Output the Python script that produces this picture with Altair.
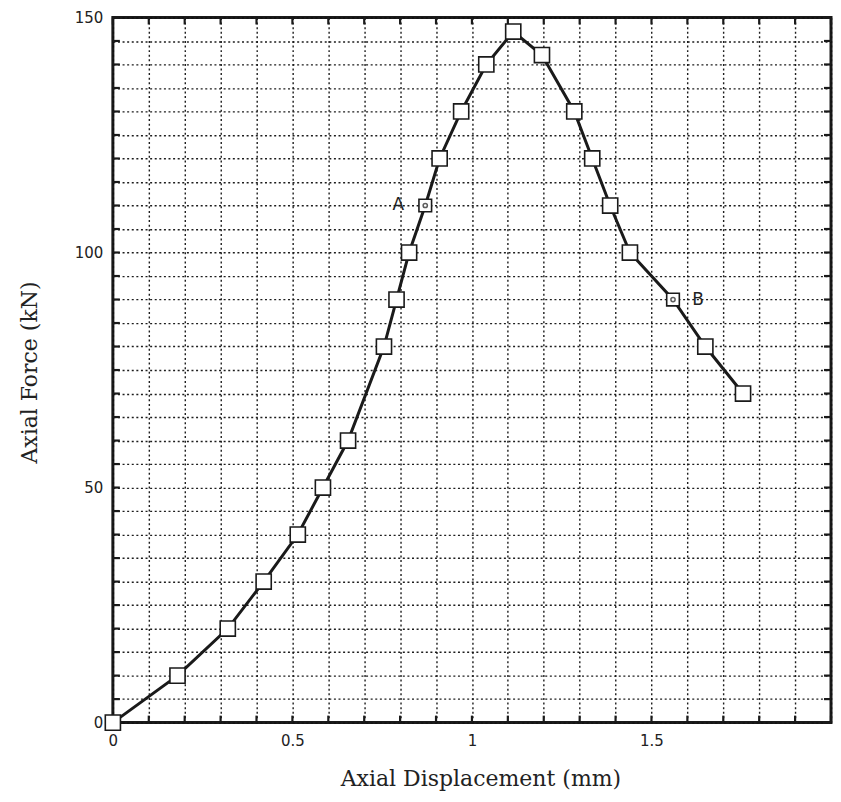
import altair as alt
import pandas as pd

# Axial displacement (mm) and axial force (kN)
disp = [0.0, 0.18, 0.32, 0.42, 0.515, 0.585, 0.655, 0.755, 0.79, 0.825, 0.87,
        0.91, 0.97, 1.04, 1.115, 1.195, 1.285, 1.335, 1.385, 1.44, 1.56, 1.65, 1.755]
force = [0, 10, 20, 30, 40, 50, 60, 80, 90, 100, 110,
         120, 130, 140, 147, 142, 130, 120, 110, 100, 90, 80, 70]
kind = ["n"] * 10 + ["A"] + ["n"] * 9 + ["B"] + ["n"] * 2

label_names = ["A", "B"]
label_disp = [0.87, 1.56]
label_force = [110, 90]

x_ticks = [round(i / 10, 1) for i in range(21)]
y_ticks = [i * 5 for i in range(31)]

W, H = 719, 706

df = pd.DataFrame({"d": disp, "f": force, "k": kind})
lab = pd.DataFrame({"name": label_names, "d": label_disp, "f": label_force})
xt = pd.DataFrame({"d": x_ticks})
yt = pd.DataFrame({"f": y_ticks})

xscale = alt.Scale(domain=[0, 2], nice=False, zero=False)
yscale = alt.Scale(domain=[0, 150], nice=False, zero=False)

xaxis = alt.Axis(
    values=x_ticks, format="~g", tickCount=21,
    labelExpr="(abs(datum.value*2 - round(datum.value*2)) < 0.001 && datum.value < 1.95) ? datum.label : ''",
    grid=True, gridColor="#111", gridDash=[2, 2.6], gridWidth=1.4, gridOpacity=0.95,
    ticks=False, domain=False, labelPadding=11, labelFlush=False, labelOverlap=False,
    labelFont="DejaVu Sans", labelFontSize=15, labelColor="#222",
    title="Axial Displacement (mm)", titleFont="DejaVu Serif",
    titleFontSize=22, titleFontWeight="normal", titleColor="#222",
    titleX=368, titleY=56, titleBaseline="middle", titleAlign="center",
)
yaxis = alt.Axis(
    values=y_ticks, tickCount=31,
    labelExpr="datum.value % 50 == 0 ? datum.label : ''",
    grid=True, gridColor="#111", gridDash=[2, 2.6], gridWidth=1.4, gridOpacity=0.95,
    ticks=False, domain=False, labelPadding=10, labelFlush=False, labelOverlap=False,
    labelFont="DejaVu Sans", labelFontSize=15, labelColor="#222",
    title="Axial Force (kN)", titleFont="DejaVu Serif",
    titleFontSize=22, titleFontWeight="normal", titleColor="#222",
    titleX=-83, titleY=355, titleAngle=270, titleBaseline="middle", titleAlign="center",
)

X = alt.X("d:Q", scale=xscale, axis=xaxis)
Y = alt.Y("f:Q", scale=yscale, axis=yaxis)

line = alt.Chart(df).mark_line(color="#1a1a1a", strokeWidth=3).encode(x=X, y=Y)

pts = alt.Chart(df).transform_filter("datum.k == 'n'").mark_point(
    shape="square", filled=True, fill="white", stroke="#1a1a1a", strokeWidth=1.6,
    size=230, opacity=1,
).encode(x=X, y=Y)

spts = alt.Chart(df).transform_filter("datum.k != 'n'").mark_point(
    shape="square", filled=True, fill="white", stroke="#1a1a1a", strokeWidth=1.6,
    size=160, opacity=1,
).encode(x=X, y=Y)

inner = alt.Chart(df).transform_filter("datum.k != 'n'").mark_point(
    shape="circle", filled=False, stroke="#1a1a1a", strokeWidth=1.5, size=18,
).encode(x=X, y=Y)

txtA = alt.Chart(lab).transform_filter("datum.name == 'A'").mark_text(
    font="DejaVu Sans", fontSize=17, color="#222", baseline="middle", dx=-27,
).encode(x=X, y=Y, text="name:N")
txtB = alt.Chart(lab).transform_filter("datum.name == 'B'").mark_text(
    font="DejaVu Sans", fontSize=17, color="#222", baseline="middle", dx=25,
).encode(x=X, y=Y, text="name:N")

tick_style = dict(color="#1a1a1a", strokeWidth=2.2)
tb = alt.Chart(xt).mark_rule(**tick_style).encode(
    x=X, y=alt.value(H), y2=alt.value(H - 7))
tt = alt.Chart(xt).mark_rule(**tick_style).encode(
    x=X, y=alt.value(0), y2=alt.value(7))
tl = alt.Chart(yt).mark_rule(**tick_style).encode(
    y=Y, x=alt.value(0), x2=alt.value(7))
tr = alt.Chart(yt).mark_rule(**tick_style).encode(
    y=Y, x=alt.value(W), x2=alt.value(W - 7))

chart = alt.layer(line, tb, tt, tl, tr, pts, spts, inner, txtA, txtB).properties(
    width=W, height=H,
    padding={"left": 105, "top": 9, "right": 2, "bottom": 71},
    autosize=alt.AutoSizeParams(type="none"),
    background="white",
).configure_view(stroke="#1a1a1a", strokeWidth=3)

chart.save("out.html", embed_options={"renderer": "svg", "actions": False})
